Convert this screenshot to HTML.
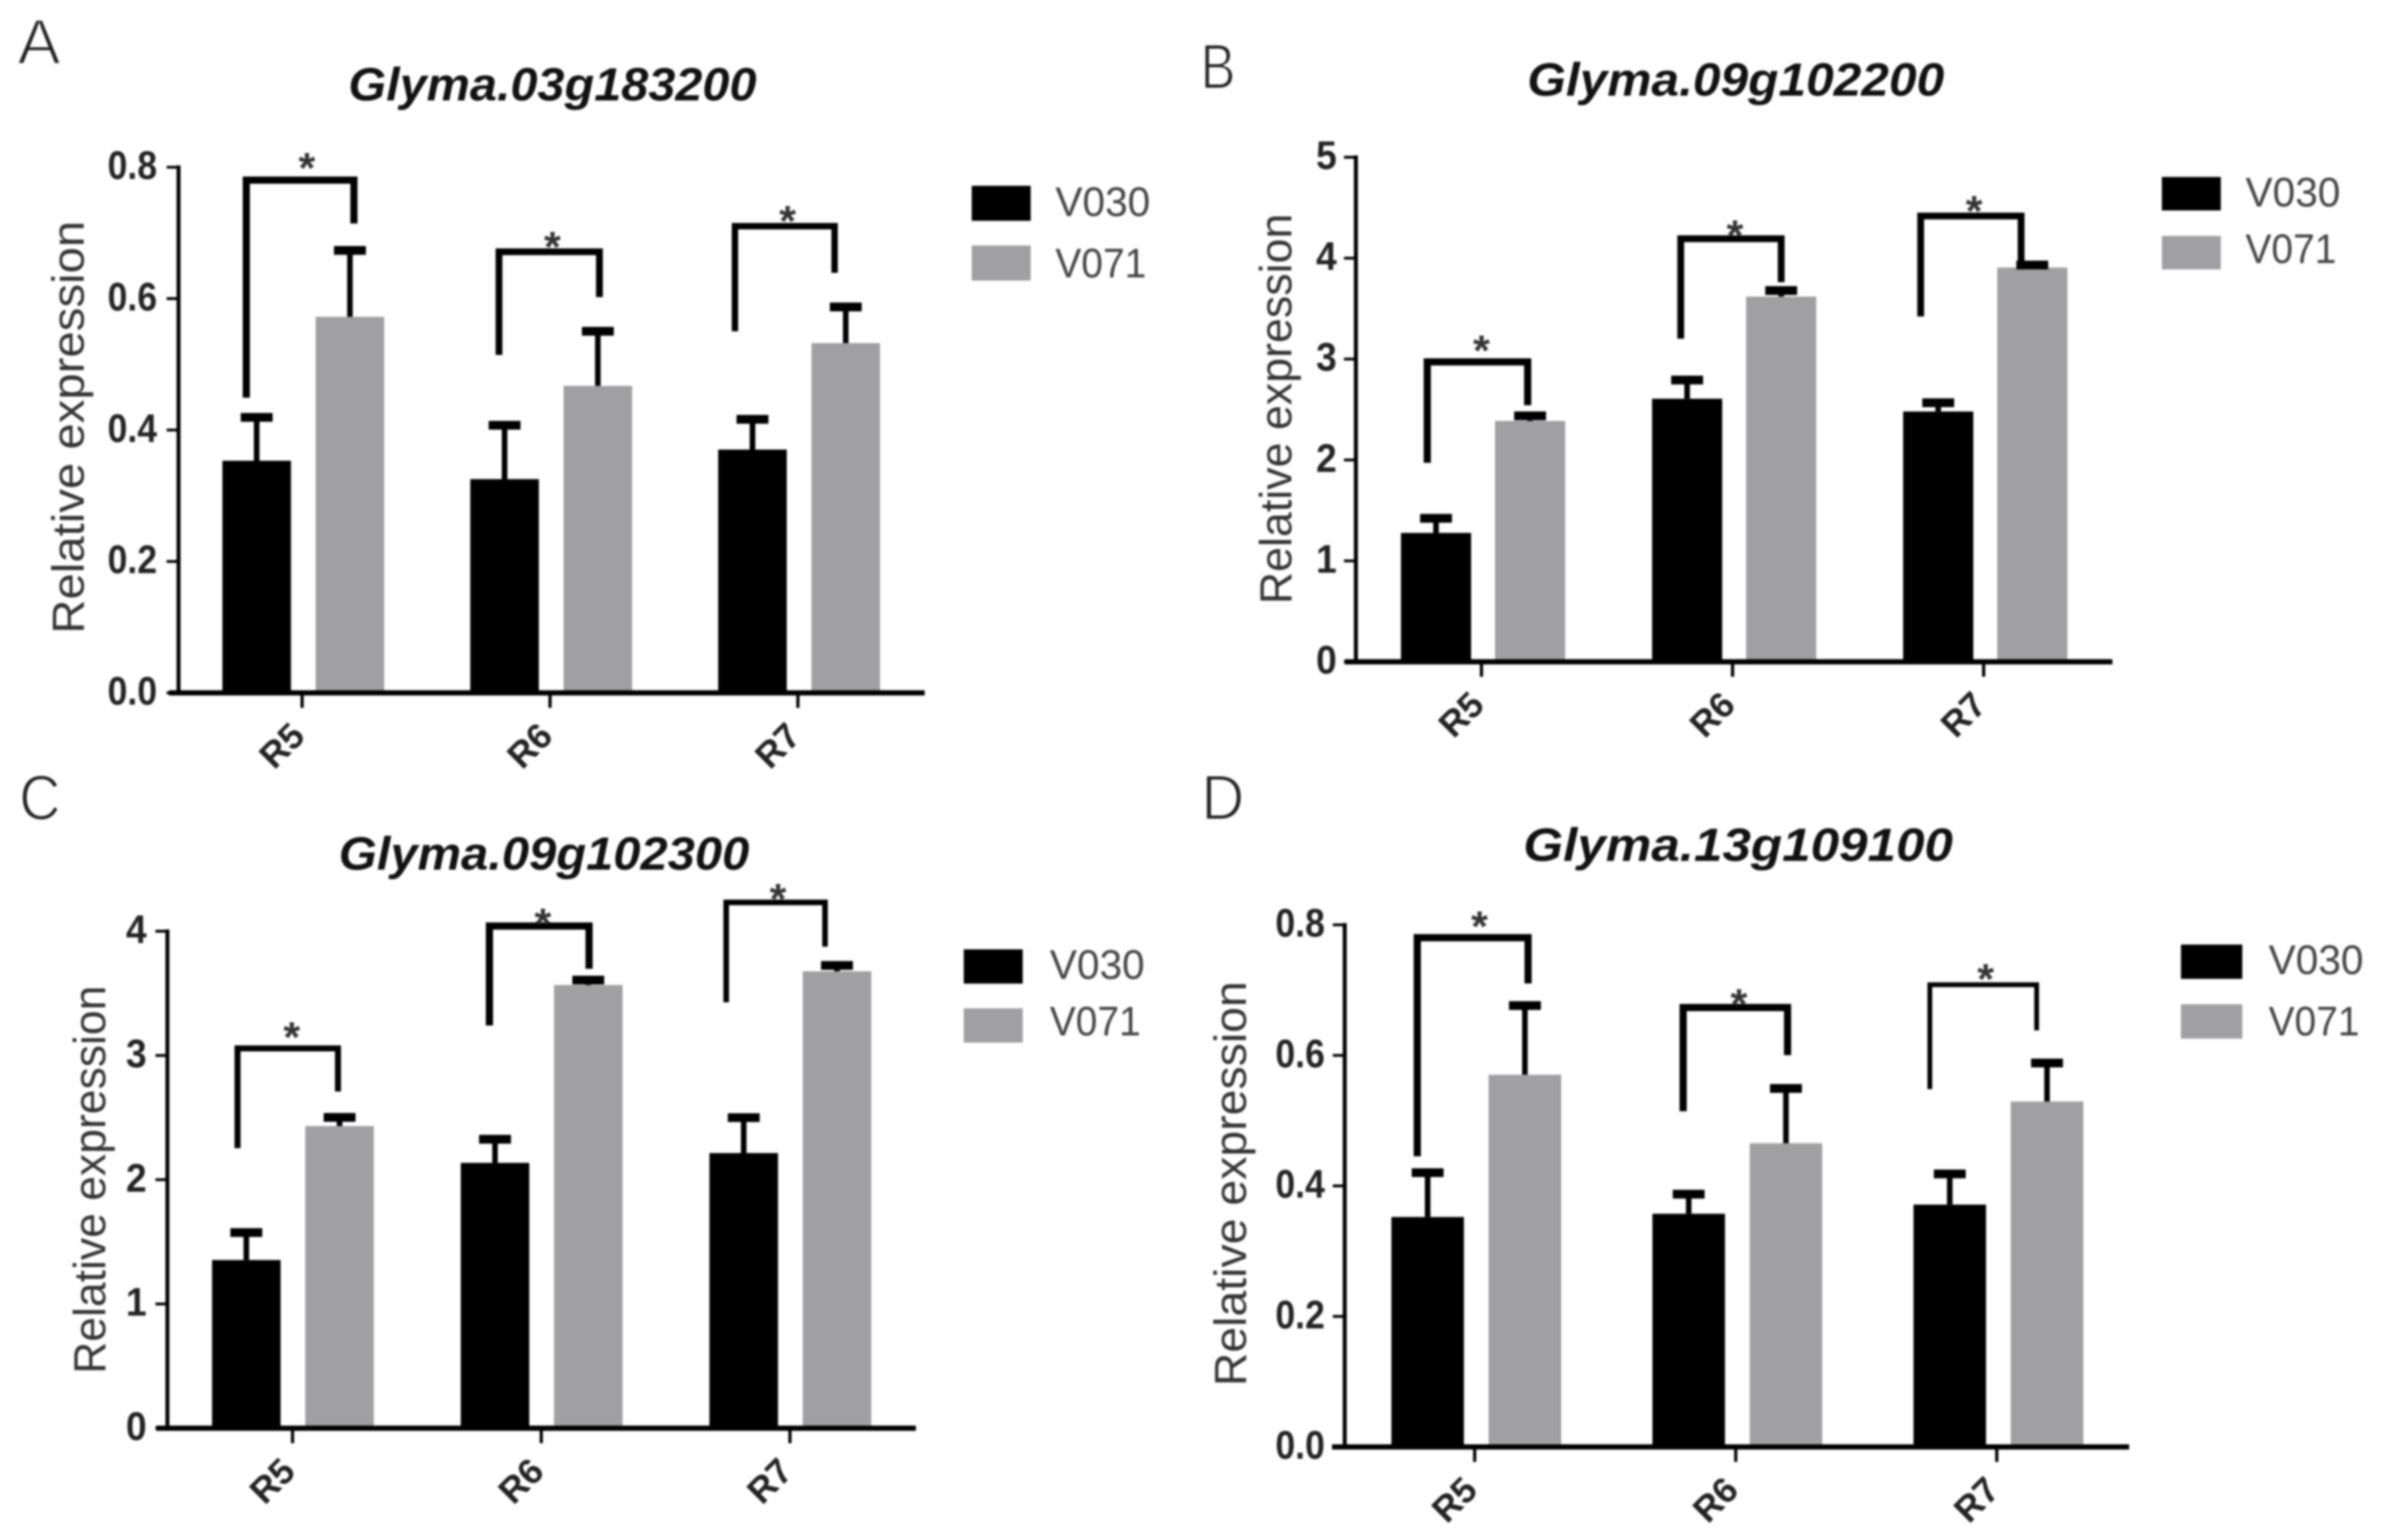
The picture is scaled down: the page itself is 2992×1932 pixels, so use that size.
<!DOCTYPE html>
<html lang="en">
<head>
<meta charset="utf-8">
<title>Relative expression of four Glyma genes</title>
<style>
html,body{margin:0;padding:0;background:#fff;width:2992px;height:1932px;overflow:hidden}
#figure{display:block;filter:blur(1.2px)}
text{font-family:"Liberation Sans",sans-serif}
</style>
</head>
<body>
<svg id="figure" xmlns="http://www.w3.org/2000/svg" width="2992" height="1932" viewBox="0 0 2992 1932"></svg>
<script>
/* shared categories */
const categories = ['R5', 'R6', 'R7'];
const seriesNames = ['V030', 'V071'];

/* panel A */
const aV030 = [0.353, 0.325, 0.370];
const aV071 = [0.572, 0.467, 0.532];
const aV030Err = [0.066, 0.082, 0.046];
const aV071Err = [0.101, 0.083, 0.055];
const aBracketTop = [0.78, 0.671, 0.71];
const aBracketLeft = [0.449, 0.514, 0.55];
const aBracketRight = [0.714, 0.602, 0.639];
const aTicks = [0, 0.2, 0.4, 0.6, 0.8];
const aTickLabels = ['0.0', '0.2', '0.4', '0.6', '0.8'];

/* panel B */
const bV030 = [1.275, 2.605, 2.478];
const bV071 = [2.385, 3.617, 3.905];
const bV030Err = [0.145, 0.185, 0.087];
const bV071Err = [0.05, 0.06, 0.025];
const bBracketTop = [2.97, 4.19, 4.415];
const bBracketLeft = [1.97, 3.2, 3.42];
const bBracketRight = [2.54, 3.76, 3.95];
const bTicks = [0, 1, 2, 3, 4, 5];
const bTickLabels = ['0', '1', '2', '3', '4', '5'];

/* panel C */
const cV030 = [1.352, 2.134, 2.213];
const cV071 = [2.43, 3.565, 3.676];
const cV030Err = [0.221, 0.19, 0.285];
const cV071Err = [0.07, 0.04, 0.047];
const cBracketTop = [3.055, 4.04, 4.23];
const cBracketLeft = [2.253, 3.24, 3.427];
const cBracketRight = [2.708, 3.696, 3.874];
const cTicks = [0, 1, 2, 3, 4];
const cTickLabels = ['0', '1', '2', '3', '4'];

/* panel D */
const dV030 = [0.352, 0.357, 0.371];
const dV071 = [0.57, 0.465, 0.529];
const dV030Err = [0.068, 0.03, 0.047];
const dV071Err = [0.106, 0.084, 0.059];
const dBracketTop = [0.78, 0.673, 0.708];
const dBracketLeft = [0.445, 0.514, 0.548];
const dBracketRight = [0.71, 0.60, 0.638];
const dTicks = [0, 0.2, 0.4, 0.6, 0.8];
const dTickLabels = ['0.0', '0.2', '0.4', '0.6', '0.8'];

const SVG_NS = 'http://www.w3.org/2000/svg';
const BLACK = '#000000';
const GREY = '#a0a0a2';
const figure = document.getElementById('figure');

function make(tag, parent, props, content) {
  const node = document.createElementNS(SVG_NS, tag);
  for (const key in props) {
    node.setAttribute(key, props[key]);
  }
  if (content !== undefined) {
    node.textContent = content;
  }
  parent.appendChild(node);
  return node;
}

function renderPanel(p) {
  const yScale = function (v) {
    return p.y0 - (v / p.yMax) * (p.y0 - p.yTop);
  };
  const xScale = function (i) {
    return p.xStart + i * p.xStep;
  };

  const panel = make('g', figure, {});
  
  

  const letter = make('text', panel, {
    x: p.letterX, y: p.letterY, 'font-size': 80, fill: '#222',
    stroke: '#fff', 'stroke-width': 2, textLength: p.letterW, lengthAdjust: 'spacingAndGlyphs'
  }, p.id);
  
  

  const title = make('text', panel, {
    x: p.titleX, y: p.titleY, 'font-size': 58, 'font-weight': 'bold', 'font-style': 'italic',
    fill: '#111', textLength: p.titleW, lengthAdjust: 'spacingAndGlyphs'
  }, p.title);
  
  

  const yTitle = make('text', panel, {
    transform: 'translate(' + p.yTitleX + ' ' + p.yTitleY + ') rotate(-90)',
    'text-anchor': 'middle', 'font-size': 57, fill: '#333',
    textLength: p.yTitleW, lengthAdjust: 'spacingAndGlyphs'
  }, 'Relative expression');
  
  

  /* bars */
  p.series.forEach(function (values, s) {
    values.forEach(function (v, i) {
      const cx = xScale(i) + p.barOffset[s];
      const bar = make('rect', panel, {
        x: cx - p.barW / 2, y: yScale(v), width: p.barW, height: p.y0 - yScale(v),
        fill: s === 0 ? BLACK : GREY
      });
      
      

      const top = yScale(v + p.errors[s][i]);
      const stem = make('rect', panel, {
        x: cx - 3.5, y: top, width: 7, height: yScale(v) - top, fill: BLACK
      });
      
      
      const cap = make('rect', panel, {
        x: cx - 20, y: top - 5.5, width: 40, height: 11, fill: BLACK
      });
      
      
    });
  });

  /* axes */
  const yAxis = make('rect', panel, {
    x: p.x0 - 2.5, y: p.yTop - 2, width: 5, height: p.y0 - p.yTop + 4, fill: BLACK
  });
  
  
  const xAxis = make('rect', panel, {
    x: p.xAxisL, y: p.y0 - 3, width: p.xAxisR - p.xAxisL, height: 6.5, fill: BLACK
  });
  
  

  p.ticks.forEach(function (t, i) {
    const y = yScale(t);
    const mark = make('rect', panel, {
      x: p.x0 - 15, y: y - 1.5, width: 15, height: 3.5, fill: BLACK
    });
    
    
    const label = make('text', panel, {
      x: p.x0 - p.tickGap, y: y + 15, 'text-anchor': 'end', 'font-size': 50,
      'font-weight': 'bold', fill: '#222',
      textLength: p.tickLabels[i].length > 1 ? 62 : 26, lengthAdjust: 'spacingAndGlyphs'
    }, p.tickLabels[i]);
    
    
  });

  categories.forEach(function (c, i) {
    const x = xScale(i);
    const mark = make('rect', panel, {
      x: x - 2, y: p.y0, width: 4, height: 19, fill: BLACK
    });
    
    
    const label = make('text', panel, {
      transform: 'translate(' + (x - 26) + ' ' + (p.y0 + 66) + ') rotate(-45)',
      'text-anchor': 'middle', y: 16, 'font-size': 45, 'font-weight': 'bold', fill: '#222'
    }, c);
    
    

    /* significance bracket */
    const xl = x + p.bracketDx[i][0];
    const xr = x + p.bracketDx[i][1];
    const yt = yScale(p.bracketTop[i]);
    const bracket = make('path', panel, {
      d: 'M' + xl + ' ' + yScale(p.bracketLeft[i]) + 'V' + yt + 'H' + xr + 'V' + yScale(p.bracketRight[i]),
      fill: 'none', stroke: BLACK, 'stroke-width': p.bracketWeight[i]
    });
    
    

    const star = make('text', panel, {
      x: x + p.starDx[i], y: yt - p.starDy[i] + 29, 'text-anchor': 'middle',
      'font-size': 54, 'font-weight': 'bold', fill: '#333'
    }, '*');
    
    
  });

  /* legend */
  const legend = make('g', panel, {});
  
  
  seriesNames.forEach(function (name, s) {
    const swatch = make('rect', legend, {
      x: p.legendX, y: p.legendY[s], width: p.legendW, height: p.legendH, fill: s === 0 ? BLACK : GREY
    });
    
    
    const entry = make('text', legend, {
      x: p.legendTextX, y: p.legendBase[s], 'font-size': 52, fill: '#444',
      textLength: s === 0 ? 119 : 114, lengthAdjust: 'spacingAndGlyphs'
    }, name);
    
    
  });
}

renderPanel({
  id: 'A', title: 'Glyma.03g183200', yMax: 0.8,
  series: [aV030, aV071], errors: [aV030Err, aV071Err],
  ticks: aTicks, tickLabels: aTickLabels,
  bracketTop: aBracketTop, bracketLeft: aBracketLeft, bracketRight: aBracketRight,
  x0: 224, y0: 869, yTop: 209.5, xAxisL: 212, xAxisR: 1160,
  xStart: 379, xStep: 311, barOffset: [-57, 60], barW: 86, tickGap: 27,
  bracketDx: [[-70, 65], [-64, 62], [-79, 46]], bracketWeight: [9, 8.5, 8],
  starDx: [6, 3, -13], starDy: [26, 17, 17],
  letterX: 22, letterY: 80, letterW: 54,
  titleX: 437, titleY: 126, titleW: 512,
  yTitleX: 105, yTitleY: 536, yTitleW: 518,
  legendX: 1219, legendY: [233, 308], legendW: 74, legendH: 44,
  legendTextX: 1324, legendBase: [271, 348]
});

renderPanel({
  id: 'B', title: 'Glyma.09g102200', yMax: 5,
  series: [bV030, bV071], errors: [bV030Err, bV071Err],
  ticks: bTicks, tickLabels: bTickLabels,
  bracketTop: bBracketTop, bracketLeft: bBracketLeft, bracketRight: bBracketRight,
  x0: 1701, y0: 830, yTop: 197, xAxisL: 1687, xAxisR: 2650,
  xStart: 1858.5, xStep: 315, barOffset: [-57, 61], barW: 88, tickGap: 24,
  bracketDx: [[-68, 58], [-65, 61], [-79, 47]], bracketWeight: [9, 8.5, 8.5],
  starDx: [0, 3, -12], starDy: [25, 15, 17],
  letterX: 1506, letterY: 111, letterW: 44,
  titleX: 1916, titleY: 120, titleW: 523,
  yTitleX: 1620, yTitleY: 513, yTitleW: 490,
  legendX: 2712, legendY: [222, 296], legendW: 74, legendH: 42,
  legendTextX: 2817, legendBase: [259, 330]
});

renderPanel({
  id: 'C', title: 'Glyma.09g102300', yMax: 4,
  series: [cV030, cV071], errors: [cV030Err, cV071Err],
  ticks: cTicks, tickLabels: cTickLabels,
  bracketTop: cBracketTop, bracketLeft: cBracketLeft, bracketRight: cBracketRight,
  x0: 210, y0: 1791.5, yTop: 1168, xAxisL: 196, xAxisR: 1149,
  xStart: 367, xStep: 312, barOffset: [-58, 59], barW: 86, tickGap: 26,
  bracketDx: [[-69, 57], [-65, 60], [-80, 44]], bracketWeight: [7.5, 9, 7],
  starDx: [-1, 2, -15], starDy: [25, 14, 15],
  letterX: 24, letterY: 1028, letterW: 52,
  titleX: 425, titleY: 1091, titleW: 515,
  yTitleX: 132, yTitleY: 1480, yTitleW: 487,
  legendX: 1209, legendY: [1191, 1265], legendW: 74, legendH: 43,
  legendTextX: 1317, legendBase: [1228, 1299]
});

renderPanel({
  id: 'D', title: 'Glyma.13g109100', yMax: 0.8,
  series: [dV030, dV071], errors: [dV030Err, dV071Err],
  ticks: dTicks, tickLabels: dTickLabels,
  bracketTop: dBracketTop, bracketLeft: dBracketLeft, bracketRight: dBracketRight,
  x0: 1687, y0: 1815, yTop: 1160, xAxisL: 1671, xAxisR: 2671,
  xStart: 1850, xStep: 327.5, barOffset: [-59, 63], barW: 91, tickGap: 25,
  bracketDx: [[-72, 67], [-66, 65], [-84, 50]], bracketWeight: [9, 9, 6],
  starDx: [6, 4, -14], starDy: [25, 15, 18],
  letterX: 1507, letterY: 1028, letterW: 54,
  titleX: 1911, titleY: 1080, titleW: 539,
  yTitleX: 1563, yTitleY: 1485, yTitleW: 508,
  legendX: 2736, legendY: [1185, 1260], legendW: 77, legendH: 43,
  legendTextX: 2846, legendBase: [1222, 1299]
});
</script>
</body>
</html>
